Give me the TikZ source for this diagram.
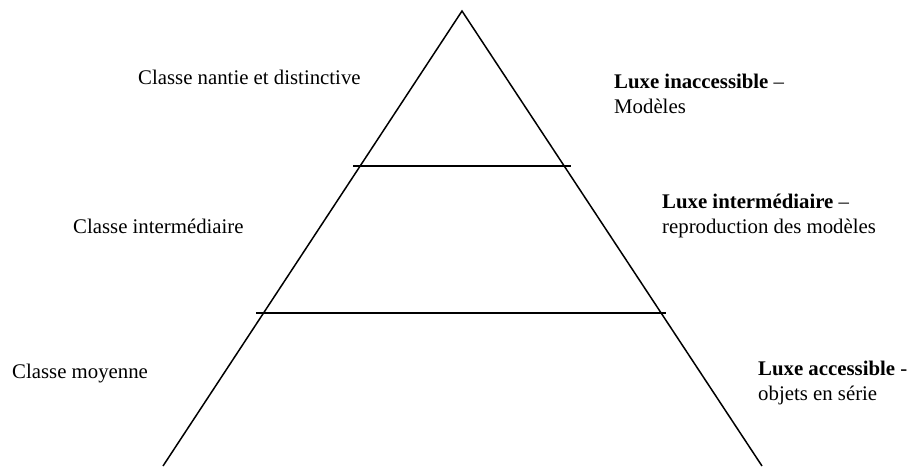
\documentclass[tikz,border=0pt]{standalone}
\usepackage{fontspec}
\setmainfont{Liberation Serif}
\usepackage{tikz}
\usetikzlibrary{positioning}

\begin{document}
\begin{tikzpicture}[
    x=1pt, y=-1pt,
    edge/.style={line width=1.5pt, black},
    label/.style={inner sep=0pt, anchor=base west, align=left,
                  font=\fontsize{20.8}{25}\selectfont}
]
  \useasboundingbox (0,0) rectangle (912,466);

  % Pyramid corners
  \coordinate (apex) at (462,11);
  \coordinate (baseL) at (163,466);
  \coordinate (baseR) at (762,466);
  \coordinate (topL) at (353,166);
  \coordinate (topR) at (571,166);
  \coordinate (midL) at (256,313);
  \coordinate (midR) at (666,313);

  % Outline and tiers
  \draw[edge] (baseL) -- (apex) -- (baseR);
  \draw[edge] (topL) -- (topR);
  \draw[edge] (midL) -- (midR);

  % Classes
  \node[label] (nantie) at (138,84) {Classe nantie et distinctive};
  \node[label] (inter) at (73,233) {Classe intermédiaire};
  \node[label] (moyenne) at (12,378) {Classe moyenne};

  % Luxe levels (anchored on the second line)
  \node[label] (inacc) at (614,113) {\textbf{Luxe inaccessible} --\\Modèles};
  \node[label] (luxinter) at (662,233) {\textbf{Luxe intermédiaire} --\\reproduction des modèles};
  \node[label] (acc) at (758,400) {\textbf{Luxe accessible} -\\objets en série};
\end{tikzpicture}
\end{document}
